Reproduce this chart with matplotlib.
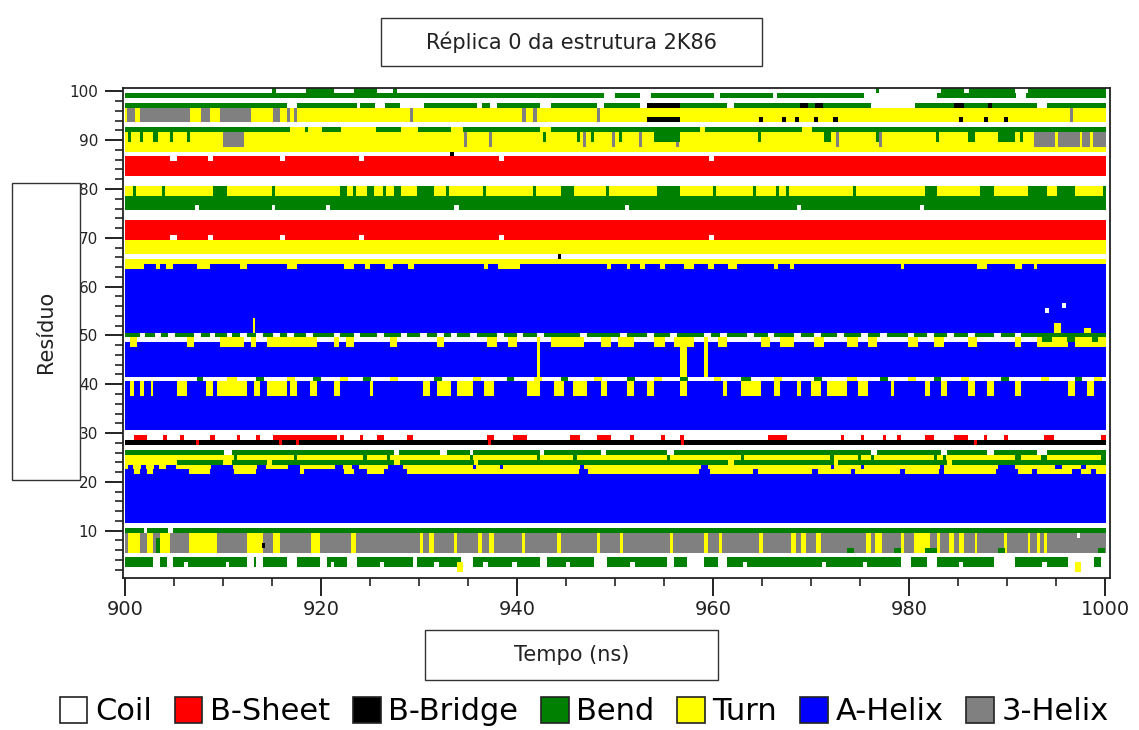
import numpy as np
import matplotlib
matplotlib.use("Agg")
import matplotlib.pyplot as plt
from matplotlib.colors import ListedColormap
from matplotlib.patches import Patch, Rectangle

# ------------------------------------------
# DSSP STATES AND COLOURS
state_names = ['Coil', 'B-Sheet', 'B-Bridge', 'Bend', 'Turn', 'A-Helix', '3-Helix']
state_colors = ['#ffffff', '#ff0000', '#000000', '#008000', '#ffff00', '#0000ff', '#808080']
C, E, B, S, T, H, G = range(7)

# dominant state of each residue, 1 -> 100
base_state = [C, C, S, S, C, G, G, G, G, S,      # 1-10
              C, H, H, H, H, H, H, H, H, H,      # 11-20
              H, H, T, S, T, S, C, B, C, C,      # 21-30
              H, H, H, H, H, H, H, H, H, H,      # 31-40
              C, H, H, H, H, H, H, H, C, S,      # 41-50
              H, H, H, H, H, H, H, H, H, H,      # 51-60
              H, H, H, H, T, C, T, T, T, E,      # 61-70
              E, E, E, C, C, S, S, S, T, T,      # 71-80
              C, C, E, E, E, E, C, T, T, T,      # 81-90
              T, S, C, T, T, T, S, C, S, C]      # 91-100

# time spans (ns) where residues leave their dominant state
row100_bend = [(915.0, 915.4), (918.5, 921.3), (923.3, 925.7), (927.3, 927.7), (976.6, 976.9),
               (983.2, 985.5), (986.0, 990.7), (992.0, 1000.0)]
row99_coil = [(948.8, 950.0), (952.5, 953.6), (960.0, 960.7), (966.1, 966.5), (975.3, 982.8), (990.8, 991.8)]
row97_coil = [(916.5, 917.5), (923.6, 924.0), (925.5, 926.5), (928.0, 930.5), (935.9, 936.4), (937.2, 937.9),
              (942.3, 943.4), (948.1, 948.8), (952.5, 953.2), (961.4, 962.1), (976.0, 980.5), (993.0, 994.0)]
row97_bridge = [(953.2, 956.6), (968.8, 969.6), (970.3, 971.2), (984.5, 985.5), (988.0, 988.4)]
rows94_96_3helix = [(900.2, 901.0), (901.5, 906.6), (907.7, 908.7), (909.7, 912.8), (915.1, 915.8),
                    (916.5, 916.8), (917.2, 917.5), (929.1, 929.4), (940.5, 940.9), (941.6, 942.0),
                    (948.1, 948.4), (996.3, 996.6)]
row94_bridge = [(953.2, 956.6), (964.6, 965.0), (967.0, 967.4), (968.3, 968.7), (970.2, 970.6),
                (972.2, 972.7), (985.0, 985.4), (987.6, 988.0), (989.6, 990.0)]
row92_turn = [(916.8, 918.3), (918.7, 920.1), (922.0, 925.6), (928.1, 929.9), (933.2, 934.5),
              (942.3, 943.4), (958.6, 959.1), (969.0, 970.0)]
rows89_91_3helix = [(910.0, 912.1), (934.6, 934.9), (937.1, 937.4), (946.7, 947.0), (949.6, 949.9),
                    (952.4, 952.7), (956.2, 956.5), (972.5, 972.8), (976.9, 977.2), (992.7, 994.8),
                    (995.1, 997.3), (997.6, 998.4), (998.7, 1000.0)]
rows90_91_bend = [(900.3, 900.6), (901.5, 901.8), (902.9, 903.4), (904.6, 904.9), (906.3, 906.6),
                  (942.6, 942.9), (946.1, 946.4), (947.5, 947.8), (950.4, 950.7), (953.9, 956.6),
                  (964.5, 964.8), (971.3, 972.0), (976.6, 976.9), (982.7, 983.0), (985.9, 986.6),
                  (989.0, 990.7), (991.2, 991.5)]
row87_bridge = [(933.1, 933.5)]
sheet_edge_coil = [(904.6, 905.3), (908.5, 909.0), (915.8, 916.3), (923.9, 924.4), (938.1, 938.6), (959.5, 960.0)]
rows79_80_bend = [(900.8, 901.1), (903.8, 904.1), (909.0, 910.4), (915.0, 915.3), (921.9, 922.6), (923.2, 923.5),
                  (924.7, 925.4), (926.3, 926.6), (927.4, 928.1), (929.8, 931.5), (932.7, 933.0), (936.5, 936.8),
                  (941.6, 941.9), (944.4, 945.8), (949.0, 949.3), (954.2, 956.6), (959.9, 960.2), (964.0, 964.3),
                  (966.4, 966.7), (967.4, 967.7), (974.2, 974.5), (981.5, 982.8), (987.2, 988.6), (992.0, 994.0),
                  (995.0, 996.8), (999.7, 1000.0)]
row76_coil = [(907.1, 907.5), (915.0, 915.3), (920.5, 920.9), (933.5, 934.0), (951.0, 951.4), (968.5, 968.9),
              (981.0, 981.4)]
row66_bridge = [(944.1, 944.4)]
row64_turn = [(900.0, 901.9), (903.2, 903.6), (904.2, 904.9), (907.3, 908.7), (911.7, 912.4), (916.5, 917.5),
              (922.3, 923.3), (924.5, 925.0), (926.5, 927.3), (928.8, 929.5), (936.6, 937.0), (938.0, 940.3),
              (949.1, 949.5), (951.2, 951.5), (952.5, 953.0), (954.5, 955.0), (957.0, 958.0), (959.4, 960.0),
              (961.5, 962.4), (966.2, 966.6), (967.8, 968.2), (979.1, 979.4), (986.9, 987.9), (990.7, 991.4),
              (992.7, 993.0)]
row55_coil = [(993.8, 994.2)]
row56_coil = [(995.5, 995.9)]
rows51_53_turn = [(913.0, 913.3)]
rows51_52_turn = [(994.7, 995.4)]
row51_turn = [(997.8, 998.5)]
row50_coil = [(901.5, 902.0), (903.1, 903.7), (904.4, 905.1), (907.0, 907.7), (908.7, 909.2), (910.4, 910.9),
              (911.7, 912.4), (913.4, 914.1), (915.1, 915.8), (916.5, 917.2), (918.5, 919.2), (921.3, 921.9),
              (923.3, 924.0), (925.7, 926.4), (928.1, 928.7), (930.1, 930.8), (931.8, 932.5), (933.2, 933.8),
              (935.2, 935.9), (937.9, 938.6), (940.0, 940.6), (942.0, 942.7), (946.4, 947.1), (950.5, 951.2),
              (953.2, 953.9), (955.6, 956.3), (959.0, 959.7), (960.7, 961.4), (963.4, 964.1), (965.5, 966.2),
              (968.2, 968.9), (970.2, 970.9), (972.6, 973.3), (975.0, 975.7), (977.0, 977.7), (979.8, 980.4),
              (981.8, 982.5), (983.8, 984.5), (985.9, 986.6), (988.6, 989.3), (990.7, 991.3)]
rows48_49_turn = [(900.5, 901.2), (906.3, 907.0), (909.7, 912.1), (912.8, 913.4), (914.5, 919.6), (921.3, 921.8),
                  (922.5, 923.3), (927.0, 927.7), (931.8, 932.5), (936.9, 937.9), (939.0, 940.0), (942.0, 942.3),
                  (943.4, 946.8), (948.5, 949.5), (950.3, 951.9), (953.9, 955.0), (956.0, 958.0), (959.0, 959.4),
                  (960.4, 961.4), (964.8, 965.8), (966.8, 968.2), (970.2, 971.3), (973.6, 974.7), (975.7, 976.7),
                  (979.8, 980.8), (982.5, 983.5), (985.9, 986.9), (990.7, 991.3), (993.0, 996.1), (996.8, 1000.0)]
rows49_50_bend = [(993.5, 994.5), (996.0, 996.8), (998.6, 999.2)]
spike_941_turn = [(942.0, 942.3)]
spike_957_turn = [(956.6, 957.3)]
spike_959_turn = [(959.0, 959.4)]
row41_bend = [(907.3, 908.0), (913.4, 914.2), (919.2, 920.0), (924.3, 925.1), (931.5, 932.3), (938.9, 939.7),
              (944.4, 945.2), (951.2, 952.0), (956.6, 957.4), (962.8, 963.8), (970.2, 971.1), (977.0, 977.8),
              (982.5, 983.2), (989.3, 990.1), (996.8, 997.6)]
row41_turn = [(910.4, 911.4), (916.5, 917.3), (921.9, 922.7), (927.0, 927.8), (935.5, 936.3), (941.7, 942.5),
              (947.8, 948.6), (953.9, 954.7), (960.0, 960.8), (966.2, 967.0), (973.6, 974.6), (979.8, 980.6),
              (985.2, 986.0), (993.4, 994.2), (998.8, 999.6)]
rows38_40_turn = [(900.5, 900.9), (901.5, 901.9), (902.6, 902.9), (905.3, 906.3), (908.3, 909.0), (909.4, 912.4),
                  (913.1, 913.8), (914.5, 916.5), (916.8, 917.5), (918.9, 919.6), (921.3, 921.9), (925.0, 925.3),
                  (930.4, 931.1), (931.8, 932.5), (932.1, 933.2), (933.8, 935.5), (936.6, 937.6), (941.0, 942.3),
                  (943.7, 944.7), (945.7, 947.1), (948.5, 949.1), (951.2, 951.9), (953.2, 953.9), (956.6, 957.3),
                  (961.0, 961.4), (962.8, 964.8), (966.2, 966.8), (968.5, 968.9), (969.9, 970.9), (971.6, 973.6),
                  (974.7, 975.7), (978.1, 978.4), (981.5, 982.1), (983.2, 983.8), (985.9, 986.6), (987.9, 988.6),
                  (990.7, 991.3), (996.1, 996.8), (998.1, 998.8)]
row29_sheet = [(900.9, 902.2), (903.9, 904.3), (905.6, 906.0), (908.7, 909.2), (911.4, 911.7), (913.4, 913.8),
               (915.1, 921.6), (921.9, 922.3), (924.0, 924.3), (925.7, 926.4), (928.7, 929.4), (936.9, 937.6),
               (939.6, 941.0), (945.4, 946.4), (948.1, 949.5), (951.5, 951.9), (954.6, 955.0), (956.6, 957.0),
               (965.5, 967.5), (973.0, 973.3), (975.0, 975.3), (977.3, 977.6), (978.7, 979.1), (981.5, 982.5),
               (984.5, 985.9), (987.6, 987.9), (989.6, 990.0), (993.7, 994.7), (999.5, 1000.0)]
row28_sheet = [(907.2, 907.5), (915.7, 916.0), (917.4, 917.7), (937.0, 937.3), (956.7, 957.0), (986.5, 986.8)]
row26_coil = [(910.1, 910.9), (927.4, 927.9), (932.1, 932.8), (935.2, 935.5), (942.3, 942.7), (948.5, 949.0),
              (955.3, 956.0), (976.0, 976.7), (983.2, 983.8), (987.9, 988.6), (993.0, 994.0)]
row25_bend = [(911.1, 911.4), (917.2, 917.5), (924.3, 924.7), (926.7, 927.0), (935.2, 935.5), (942.0, 942.3),
              (945.7, 946.1), (955.3, 955.6), (962.8, 963.1), (971.9, 972.3), (974.7, 975.0), (976.0, 976.4),
              (982.5, 982.8), (983.4, 983.7), (990.7, 991.3), (993.4, 994.0), (999.5, 1000.0)]
row24_turn = [(900.0, 905.3), (910.0, 910.9), (914.5, 915.0), (927.4, 928.0), (935.6, 936.0), (961.5, 962.1),
              (972.3, 972.7), (983.8, 984.3)]
row23_helix = [(900.3, 900.8), (901.6, 902.1), (903.0, 903.5), (904.2, 905.2), (908.8, 911.0), (913.5, 914.4),
               (916.6, 917.8), (921.4, 922.2), (923.1, 923.9), (926.8, 928.3), (935.5, 935.8), (938.2, 938.5),
               (946.4, 946.8), (958.7, 959.4), (972.0, 972.3), (975.0, 975.3), (983.1, 983.5), (989.0, 990.7),
               (994.8, 995.5), (997.5, 998.0)]
row22_turn = [(900.9, 901.5), (902.2, 902.9), (906.5, 908.7), (911.1, 913.4), (917.8, 918.2), (922.3, 923.3),
              (924.7, 926.4), (928.7, 946.3), (947.2, 958.5), (959.6, 964.0), (964.5, 970.0), (970.6, 974.0),
              (974.4, 979.0), (979.5, 983.0), (983.5, 988.8), (991.0, 992.5), (993.0, 996.5), (997.5, 998.5),
              (999.0, 1000.0)]
row10_coil = [(901.9, 902.2), (904.4, 904.9)]
rows6_9_turn = [(900.3, 901.5), (902.2, 902.9), (903.6, 904.6), (906.5, 909.4), (912.4, 914.1), (915.1, 915.8),
                (919.0, 919.9), (923.0, 923.5), (930.1, 930.4), (931.0, 931.5), (933.5, 933.8), (936.0, 936.4),
                (937.1, 937.6), (940.5, 940.8), (944.0, 944.4), (948.1, 948.4), (950.5, 950.8), (955.6, 955.9),
                (959.0, 959.4), (960.5, 960.9), (964.6, 965.0), (967.9, 968.4), (968.9, 969.4), (970.4, 970.9),
                (975.5, 976.0), (976.5, 977.2), (979.1, 979.4), (980.4, 982.1), (982.8, 983.1), (984.0, 984.5),
                (985.0, 985.5), (986.6, 986.9), (989.6, 989.9), (992.0, 992.3), (993.0, 993.3), (993.7, 994.0)]
rows6_8_bend = [(903.2, 903.6)]
row6_bend = [(973.6, 974.3), (978.4, 979.1), (981.5, 982.8), (989.0, 989.7), (999.2, 999.9)]
row7_bridge = [(914.0, 914.3)]
row9_coil = [(997.0, 997.3)]
rows3_4_coil = [(902.9, 903.6), (904.3, 904.9), (912.4, 913.1), (913.4, 914.1), (916.5, 917.5), (919.9, 920.6),
                (922.6, 923.6), (929.4, 929.8), (934.2, 935.5), (942.3, 943.0), (947.8, 949.1), (955.3, 956.0),
                (957.3, 959.0), (960.4, 961.4), (979.1, 980.1), (981.8, 982.8), (988.6, 990.7), (996.1, 998.8),
                (999.5, 1000.0)]
row3_coil = [(906.0, 906.4), (910.3, 910.6), (921.0, 921.3), (926.0, 926.4), (931.5, 932.0), (936.5, 937.0),
             (939.5, 940.0), (945.0, 945.4), (951.5, 952.0), (963.0, 963.4), (971.0, 971.5), (975.2, 975.6),
             (985.0, 985.4), (993.5, 994.0)]
rows2_3_turn = [(933.8, 934.5), (996.8, 997.5)]

# ------------------------------------------
# BUILD THE RESIDUE x FRAME GRID
times = np.arange(900.0, 1000.0, 0.1) + 0.05
grid = np.repeat(np.array(base_state)[:, None], len(times), axis=1)


def paint(res_list, state, spans):
    for t0, t1 in spans:
        cols = (times >= t0) & (times < t1)
        for r in res_list:
            grid[r - 1, cols] = state


paint([100], S, row100_bend)
paint([99], C, row99_coil)
paint([97], C, row97_coil)
paint([97], B, row97_bridge)
paint([94, 95, 96], G, rows94_96_3helix)
paint([94], B, row94_bridge)
paint([92], T, row92_turn)
paint([89, 90, 91], G, rows89_91_3helix)
paint([90, 91], S, rows90_91_bend)
paint([87], B, row87_bridge)
paint([86, 70], C, sheet_edge_coil)
paint([79, 80], S, rows79_80_bend)
paint([76], C, row76_coil)
paint([66], B, row66_bridge)
paint([64], T, row64_turn)
paint([55], C, row55_coil)
paint([56], C, row56_coil)
paint([51, 52, 53], T, rows51_53_turn)
paint([51, 52], T, rows51_52_turn)
paint([51], T, row51_turn)
paint([50], C, row50_coil)
paint([48, 49], T, rows48_49_turn)
paint([49, 50], S, rows49_50_bend)
paint(range(41, 48), T, spike_941_turn)
paint(range(40, 48), T, spike_957_turn)
paint(range(42, 48), T, spike_959_turn)
paint([41], S, row41_bend)
paint([41], T, row41_turn)
paint([38, 39, 40], T, rows38_40_turn)
paint([29], E, row29_sheet)
paint([28], E, row28_sheet)
paint([26], C, row26_coil)
paint([25], S, row25_bend)
paint([24], T, row24_turn)
paint([23], H, row23_helix)
paint([22], T, row22_turn)
paint([10], C, row10_coil)
paint([6, 7, 8, 9], T, rows6_9_turn)
paint([6, 7, 8], S, rows6_8_bend)
paint([6], S, row6_bend)
paint([7], B, row7_bridge)
paint([9], C, row9_coil)
paint([3, 4], C, rows3_4_coil)
paint([3], C, row3_coil)
paint([2, 3], T, rows2_3_turn)

# ------------------------------------------
# DRAW
fig = plt.figure(figsize=(11.39, 7.30), dpi=100)
ax = fig.add_axes([0.108, 0.2082, 0.8665, 0.6713])
cmap = ListedColormap(state_colors)
ax.imshow(grid, origin='lower', aspect='auto', extent=[900, 1000, 0.5, 100.5],
          cmap=cmap, vmin=-0.5, vmax=6.5, interpolation='nearest')
ax.set_xlim(899.8, 1000.5)
ax.set_ylim(0.3, 100.7)

ax.set_xticks(np.arange(900, 1001, 20))
ax.set_xticks(np.arange(900, 1001, 5), minor=True)
ax.set_yticks(np.arange(10, 101, 10))
ax.set_yticks(np.arange(2, 101, 2), minor=True)
ax.tick_params(which='major', direction='out', length=13, width=1.4, color='#222222')
ax.tick_params(which='minor', direction='out', length=6, width=1.2, color='#222222')
ax.tick_params(axis='x', labelsize=14, pad=3, labelcolor='#222222')
ax.tick_params(axis='y', labelsize=11, pad=5, labelcolor='#222222')
for sp in ax.spines.values():
    sp.set_linewidth(1.3)
    sp.set_color('#222222')

# boxed title and axis labels
boxes = [((381, 18, 762, 66), 'Réplica 0 da estrutura 2K86', 0),
         ((425, 630, 718, 680), 'Tempo (ns)', 0),
         ((12, 183, 80, 480), 'Resíduo', 90)]
W, Hpx = 1139.0, 730.0
for (x0, y0, x1, y1), label, rot in boxes:
    fig.add_artist(Rectangle((x0 / W, 1 - y1 / Hpx), (x1 - x0) / W, (y1 - y0) / Hpx,
                             transform=fig.transFigure, facecolor='white',
                             edgecolor='#333333', linewidth=1.0))
    fig.text((x0 + x1) / 2 / W, 1 - (y0 + y1) / 2 / Hpx, label, rotation=rot,
             ha='center', va='center', fontsize=15, color='#222222')

handles = [Patch(facecolor=c, edgecolor='#222222', linewidth=1.2) for c in state_colors]
fig.legend(handles, state_names, loc='center', bbox_to_anchor=(0.513, 0.025), ncol=7,
           frameon=False, fontsize=22, handlelength=0.9, handleheight=0.9,
           handletextpad=0.25, columnspacing=0.75, borderpad=0.1)

plt.savefig('out.png', dpi=100)
